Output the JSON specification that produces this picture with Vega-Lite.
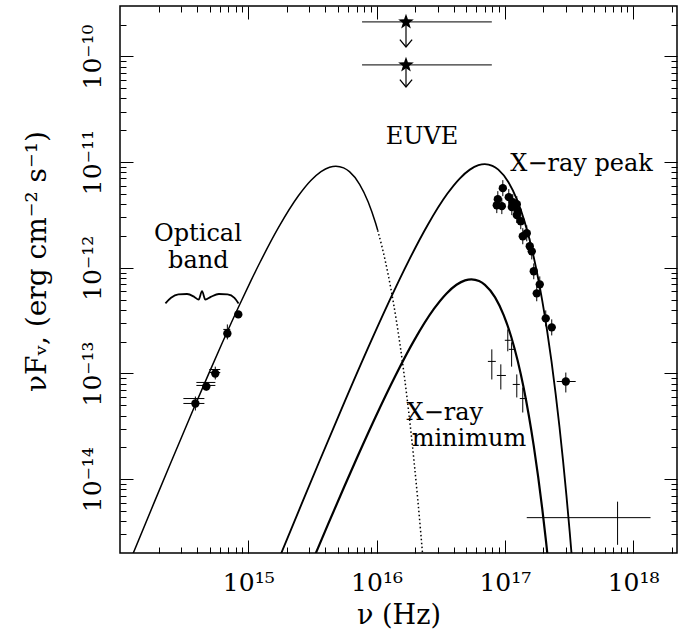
{
  "$schema": "https://vega.github.io/schema/vega-lite/v6.json",
  "width": 557,
  "height": 547,
  "autosize": {"type": "none"},
  "padding": {"left": 120, "top": 6, "right": 10, "bottom": 80},
  "background": "white",
  "config": {
    "view": {"stroke": "black", "strokeWidth": 1.5},
    "font": "DejaVu Serif",
    "axis": {"domain": false, "grid": false, "tickColor": "black", "tickWidth": 1, "labelColor": "black", "titleColor": "black", "labelFont": "DejaVu Serif", "titleFont": "DejaVu Serif", "labelFontSize": 25, "titleFontSize": 27, "titleFontWeight": "normal", "labelFlush": false, "labelOverlap": false}
  },
  "datasets": {
    "solid": [
      {"c": "A", "nu": 1.23e14, "f": 1.822e-15},
      {"c": "A", "nu": 1.845e14, "f": 5.99e-15},
      {"c": "A", "nu": 2.46e14, "f": 1.385e-14},
      {"c": "A", "nu": 3.69e14, "f": 4.436e-14},
      {"c": "A", "nu": 4.92e14, "f": 9.97e-14},
      {"c": "A", "nu": 6.15e14, "f": 1.846e-13},
      {"c": "A", "nu": 8.61e14, "f": 4.538e-13},
      {"c": "A", "nu": 1.0455e15, "f": 7.466e-13},
      {"c": "A", "nu": 1.23e15, "f": 1.115e-12},
      {"c": "A", "nu": 1.722e15, "f": 2.409e-12},
      {"c": "A", "nu": 2.46e15, "f": 4.798e-12},
      {"c": "A", "nu": 3.075e15, "f": 6.693e-12},
      {"c": "A", "nu": 3.69e15, "f": 8.131e-12},
      {"c": "A", "nu": 4.305e15, "f": 8.953e-12},
      {"c": "A", "nu": 4.82e15, "f": 9.158e-12},
      {"c": "A", "nu": 5.535e15, "f": 8.826e-12},
      {"c": "A", "nu": 6.15e15, "f": 8.123e-12},
      {"c": "A", "nu": 7.38e15, "f": 6.17e-12},
      {"c": "A", "nu": 8.61e15, "f": 4.199e-12},
      {"c": "A", "nu": 9.84e15, "f": 2.634e-12},
      {"c": "A", "nu": 1.021e16, "f": 2.26e-12},
      {"c": "B", "nu": 1.78e15, "f": 1.902e-15},
      {"c": "B", "nu": 2.67e15, "f": 6.256e-15},
      {"c": "B", "nu": 3.56e15, "f": 1.445e-14},
      {"c": "B", "nu": 5.34e15, "f": 4.63e-14},
      {"c": "B", "nu": 8.9e15, "f": 1.927e-13},
      {"c": "B", "nu": 1.246e16, "f": 4.736e-13},
      {"c": "B", "nu": 1.78e16, "f": 1.164e-12},
      {"c": "B", "nu": 2.492e16, "f": 2.515e-12},
      {"c": "B", "nu": 3.56e16, "f": 5.009e-12},
      {"c": "B", "nu": 4.45e16, "f": 6.986e-12},
      {"c": "B", "nu": 5.34e16, "f": 8.488e-12},
      {"c": "B", "nu": 6.23e16, "f": 9.345e-12},
      {"c": "B", "nu": 6.978e16, "f": 9.56e-12},
      {"c": "B", "nu": 8.01e16, "f": 9.213e-12},
      {"c": "B", "nu": 8.9e16, "f": 8.48e-12},
      {"c": "B", "nu": 1.068e17, "f": 6.441e-12},
      {"c": "B", "nu": 1.246e17, "f": 4.383e-12},
      {"c": "B", "nu": 1.424e17, "f": 2.749e-12},
      {"c": "B", "nu": 1.602e17, "f": 1.62e-12},
      {"c": "B", "nu": 1.78e17, "f": 9.08e-13},
      {"c": "B", "nu": 1.958e17, "f": 4.891e-13},
      {"c": "B", "nu": 2.136e17, "f": 2.548e-13},
      {"c": "B", "nu": 2.314e17, "f": 1.291e-13},
      {"c": "B", "nu": 2.492e17, "f": 6.389e-14},
      {"c": "B", "nu": 2.67e17, "f": 3.097e-14},
      {"c": "B", "nu": 2.848e17, "f": 1.475e-14},
      {"c": "B", "nu": 3.026e17, "f": 6.915e-15},
      {"c": "B", "nu": 3.204e17, "f": 3.198e-15},
      {"c": "B", "nu": 3.382e17, "f": 1.46e-15},
      {"c": "C", "nu": 3.08e15, "f": 1.55e-15},
      {"c": "C", "nu": 3.5e15, "f": 2.239e-15},
      {"c": "C", "nu": 4.2e15, "f": 3.769e-15},
      {"c": "C", "nu": 5.6e15, "f": 8.474e-15},
      {"c": "C", "nu": 7.0e15, "f": 1.568e-14},
      {"c": "C", "nu": 9.8e15, "f": 3.855e-14},
      {"c": "C", "nu": 1.4e16, "f": 9.475e-14},
      {"c": "C", "nu": 1.96e16, "f": 2.047e-13},
      {"c": "C", "nu": 2.8e16, "f": 4.077e-13},
      {"c": "C", "nu": 3.5e16, "f": 5.687e-13},
      {"c": "C", "nu": 4.2e16, "f": 6.909e-13},
      {"c": "C", "nu": 4.9e16, "f": 7.607e-13},
      {"c": "C", "nu": 5.488e16, "f": 7.782e-13},
      {"c": "C", "nu": 6.3e16, "f": 7.5e-13},
      {"c": "C", "nu": 7.0e16, "f": 6.902e-13},
      {"c": "C", "nu": 8.4e16, "f": 5.243e-13},
      {"c": "C", "nu": 9.8e16, "f": 3.568e-13},
      {"c": "C", "nu": 1.12e17, "f": 2.238e-13},
      {"c": "C", "nu": 1.26e17, "f": 1.318e-13},
      {"c": "C", "nu": 1.4e17, "f": 7.391e-14},
      {"c": "C", "nu": 1.54e17, "f": 3.981e-14},
      {"c": "C", "nu": 1.68e17, "f": 2.074e-14},
      {"c": "C", "nu": 1.82e17, "f": 1.051e-14},
      {"c": "C", "nu": 1.96e17, "f": 5.2e-15},
      {"c": "C", "nu": 2.1e17, "f": 2.521e-15},
      {"c": "C", "nu": 2.24e17, "f": 1.201e-15}
    ],
    "dotted": [
      {"nu": 1.021e16, "f": 2.26e-12},
      {"nu": 1.107e16, "f": 1.552e-12},
      {"nu": 1.23e16, "f": 8.699e-13},
      {"nu": 1.353e16, "f": 4.685e-13},
      {"nu": 1.476e16, "f": 2.441e-13},
      {"nu": 1.599e16, "f": 1.237e-13},
      {"nu": 1.722e16, "f": 6.12e-14},
      {"nu": 1.845e16, "f": 2.967e-14},
      {"nu": 1.968e16, "f": 1.413e-14},
      {"nu": 2.091e16, "f": 6.625e-15},
      {"nu": 2.214e16, "f": 3.063e-15},
      {"nu": 2.337e16, "f": 1.399e-15}
    ],
    "pts": [
      {"nu": 3.87e14, "f": 5.2e-14},
      {"nu": 4.71e14, "f": 7.53e-14},
      {"nu": 5.53e14, "f": 1.0e-13},
      {"nu": 6.87e14, "f": 2.39e-13},
      {"nu": 8.36e14, "f": 3.62e-13},
      {"nu": 9.65e16, "f": 5.67e-12},
      {"nu": 8.82e16, "f": 4.46e-12},
      {"nu": 8.66e16, "f": 3.91e-12},
      {"nu": 9.48e16, "f": 3.83e-12},
      {"nu": 1.074e17, "f": 4.66e-12},
      {"nu": 1.154e17, "f": 4.18e-12},
      {"nu": 1.24e17, "f": 4.0e-12},
      {"nu": 1.134e17, "f": 3.75e-12},
      {"nu": 1.262e17, "f": 3.43e-12},
      {"nu": 1.24e17, "f": 3.15e-12},
      {"nu": 1.332e17, "f": 2.76e-12},
      {"nu": 1.381e17, "f": 1.99e-12},
      {"nu": 1.483e17, "f": 2.12e-12},
      {"nu": 1.565e17, "f": 1.6e-12},
      {"nu": 1.623e17, "f": 1.43e-12},
      {"nu": 1.682e17, "f": 9.27e-13},
      {"nu": 1.873e17, "f": 6.97e-13},
      {"nu": 1.774e17, "f": 5.73e-13},
      {"nu": 2.085e17, "f": 3.32e-13},
      {"nu": 2.322e17, "f": 2.73e-13},
      {"nu": 2.99e17, "f": 8.39e-14}
    ],
    "xerr": [
      {"y": 5.79e-14, "lo": 3.12e14, "hi": 4.55e14},
      {"y": 5.2e-14, "lo": 3.12e14, "hi": 4.55e14},
      {"y": 8.22e-14, "lo": 3.94e14, "hi": 5.54e14},
      {"y": 7.7e-14, "lo": 3.94e14, "hi": 5.54e14},
      {"y": 1.09e-13, "lo": 4.97e14, "hi": 6.05e14},
      {"y": 1.02e-13, "lo": 4.97e14, "hi": 6.05e14},
      {"y": 2.61e-13, "lo": 6.39e14, "hi": 7.24e14},
      {"y": 1.3e-13, "lo": 7.38e16, "hi": 8.51e16},
      {"y": 9.57e-14, "lo": 8.67e16, "hi": 1.02e17},
      {"y": 2.06e-13, "lo": 1.0e17, "hi": 1.114e17},
      {"y": 1.69e-13, "lo": 1.074e17, "hi": 1.196e17},
      {"y": 7.87e-14, "lo": 1.153e17, "hi": 1.309e17},
      {"y": 5.79e-14, "lo": 1.309e17, "hi": 1.483e17},
      {"y": 4.32e-15, "lo": 1.483e17, "hi": 1.368e18},
      {"y": 8.39e-14, "lo": 2.54e17, "hi": 3.57e17}
    ],
    "yerr": [
      {"x": 3.87e14, "lo": 4.46e-14, "hi": 6.05e-14},
      {"x": 4.71e14, "lo": 6.9e-14, "hi": 8.22e-14},
      {"x": 5.53e14, "lo": 8.77e-14, "hi": 1.16e-13},
      {"x": 6.87e14, "lo": 2.1e-13, "hi": 2.91e-13},
      {"x": 7.92e16, "lo": 8.77e-14, "hi": 1.69e-13},
      {"x": 9.31e16, "lo": 7.05e-14, "hi": 1.22e-13},
      {"x": 1.055e17, "lo": 1.62e-13, "hi": 2.61e-13},
      {"x": 1.13e17, "lo": 1.16e-13, "hi": 1.97e-13},
      {"x": 1.24e17, "lo": 5.93e-14, "hi": 9.79e-14},
      {"x": 1.38e17, "lo": 4.27e-14, "hi": 7.36e-14},
      {"x": 7.57e17, "lo": 2.39e-15, "hi": 6.12e-15},
      {"x": 2.99e17, "lo": 6.61e-14, "hi": 1.02e-13},
      {"x": 9.65e16, "lo": 4.76e-12, "hi": 6.75e-12},
      {"x": 8.82e16, "lo": 3.75e-12, "hi": 5.31e-12},
      {"x": 8.66e16, "lo": 3.29e-12, "hi": 4.65e-12},
      {"x": 9.48e16, "lo": 3.22e-12, "hi": 4.56e-12},
      {"x": 1.074e17, "lo": 3.92e-12, "hi": 5.55e-12},
      {"x": 1.154e17, "lo": 3.51e-12, "hi": 4.97e-12},
      {"x": 1.24e17, "lo": 3.36e-12, "hi": 4.76e-12},
      {"x": 1.134e17, "lo": 3.15e-12, "hi": 4.46e-12},
      {"x": 1.262e17, "lo": 2.88e-12, "hi": 4.08e-12},
      {"x": 1.24e17, "lo": 2.65e-12, "hi": 3.75e-12},
      {"x": 1.332e17, "lo": 2.32e-12, "hi": 3.28e-12},
      {"x": 1.381e17, "lo": 1.67e-12, "hi": 2.37e-12},
      {"x": 1.483e17, "lo": 1.78e-12, "hi": 2.52e-12},
      {"x": 1.565e17, "lo": 1.34e-12, "hi": 1.9e-12},
      {"x": 1.623e17, "lo": 1.2e-12, "hi": 1.7e-12},
      {"x": 1.682e17, "lo": 7.79e-13, "hi": 1.1e-12},
      {"x": 1.873e17, "lo": 5.86e-13, "hi": 8.29e-13},
      {"x": 1.774e17, "lo": 4.82e-13, "hi": 6.82e-13},
      {"x": 2.085e17, "lo": 2.79e-13, "hi": 3.95e-13},
      {"x": 2.322e17, "lo": 2.29e-13, "hi": 3.25e-13}
    ],
    "euve": [
      {"nu": 1.697e16, "f": 2.12e-10, "lo": 7.71e15, "hi": 7.92e16, "tip": 1.23e-10},
      {"nu": 1.697e16, "f": 8.3e-11, "lo": 7.71e15, "hi": 7.92e16, "tip": 5.14e-11}
    ],
    "brace": [
      {"nu": 2.26e14, "f": 4.6e-13},
      {"nu": 2.5e14, "f": 5.2e-13},
      {"nu": 2.85e14, "f": 5.6e-13},
      {"nu": 3.33e14, "f": 5.65e-13},
      {"nu": 3.8e14, "f": 5.3e-13},
      {"nu": 4.1e14, "f": 5.0e-13},
      {"nu": 4.36e14, "f": 6.0e-13},
      {"nu": 4.63e14, "f": 5.0e-13},
      {"nu": 5.1e14, "f": 5.3e-13},
      {"nu": 5.9e14, "f": 5.65e-13},
      {"nu": 6.9e14, "f": 5.6e-13},
      {"nu": 7.8e14, "f": 5.2e-13},
      {"nu": 8.4e14, "f": 4.6e-13}
    ],
    "texts": [
      {"nu": 2.26e16, "f": 1.48e-11, "t": "EUVE"},
      {"nu": 3.97e17, "f": 8.22e-12, "t": "X−ray peak"},
      {"nu": 4.05e14, "f": 1.8e-12, "t": "Optical"},
      {"nu": 4.08e14, "f": 1.0e-12, "t": "band"},
      {"nu": 3.41e16, "f": 3.6e-14, "t": "X−ray"},
      {"nu": 5.25e16, "f": 2.05e-14, "t": "minimum"}
    ]
  },
  "resolve": {"axis": {"x": "independent", "y": "independent"}},
  "layer": [
    {
      "data": {"name": "solid"},
      "mark": {"type": "line", "clip": true, "color": "black", "interpolate": "monotone"},
      "encoding": {
        "x": {"field": "nu", "type": "quantitative", "scale": {"type": "log", "domain": [1e14, 2.2e18], "nice": false},
          "axis": {"orient": "bottom", "values": [1e15, 1e16, 1e17, 1e18], "tickSize": -13, "labelPadding": 30, "labelExpr": "round(log(datum.value)/LN10) == 15 ? '10¹⁵' : round(log(datum.value)/LN10) == 16 ? '10¹⁶' : round(log(datum.value)/LN10) == 17 ? '10¹⁷' : '10¹⁸'", "title": "ν (Hz)", "titleBaseline": "alphabetic", "titleY": 70}},
        "y": {"field": "f", "type": "quantitative", "scale": {"type": "log", "domain": [2e-15, 3e-10], "nice": false},
          "axis": {"orient": "left", "values": [1e-14, 1e-13, 1e-12, 1e-11, 1e-10], "tickSize": -13, "labelPadding": 28, "labelAngle": -90, "labelAlign": "center", "labelBaseline": "bottom", "labelExpr": "'10' + (round(log(datum.value)/LN10) == -10 ? '⁻¹⁰' : round(log(datum.value)/LN10) == -11 ? '⁻¹¹' : round(log(datum.value)/LN10) == -12 ? '⁻¹²' : round(log(datum.value)/LN10) == -13 ? '⁻¹³' : '⁻¹⁴')", "title": "νFᵥ,  (erg  cm⁻²  s⁻¹)", "titleFontSize": 28, "titleBaseline": "alphabetic", "titleX": -75, "titleY": 255}},
        "detail": {"field": "c"},
        "strokeWidth": {"field": "c", "type": "nominal", "scale": {"domain": ["A", "B", "C"], "range": [1.5, 2.2, 2.2]}, "legend": null}
      }
    },
    {
      "data": {"name": "dotted"},
      "mark": {"type": "line", "clip": true, "color": "black", "strokeWidth": 1.5, "strokeDash": [1.5, 2.5], "interpolate": "monotone"},
      "encoding": {
        "x": {"field": "nu", "type": "quantitative", "scale": {"type": "log", "domain": [1e14, 2.2e18], "nice": false},
          "axis": {"orient": "bottom", "values": [2e14, 3e14, 4e14, 5e14, 6e14, 7e14, 8e14, 9e14, 2e15, 3e15, 4e15, 5e15, 6e15, 7e15, 8e15, 9e15, 2e16, 3e16, 4e16, 5e16, 6e16, 7e16, 8e16, 9e16, 2e17, 3e17, 4e17, 5e17, 6e17, 7e17, 8e17, 9e17, 2e18], "tickSize": -6, "labels": false, "title": null}},
        "y": {"field": "f", "type": "quantitative", "scale": {"type": "log", "domain": [2e-15, 3e-10], "nice": false},
          "axis": {"orient": "left", "values": [3e-15, 4e-15, 5e-15, 6e-15, 7e-15, 8e-15, 9e-15, 2e-14, 3e-14, 4e-14, 5e-14, 6e-14, 7e-14, 8e-14, 9e-14, 2e-13, 3e-13, 4e-13, 5e-13, 6e-13, 7e-13, 8e-13, 9e-13, 2e-12, 3e-12, 4e-12, 5e-12, 6e-12, 7e-12, 8e-12, 9e-12, 2e-11, 3e-11, 4e-11, 5e-11, 6e-11, 7e-11, 8e-11, 9e-11, 2e-10], "tickSize": -6, "labels": false, "title": null}}
      }
    },
    {
      "data": {"name": "xerr"},
      "mark": {"type": "rule", "color": "black", "strokeWidth": 1},
      "encoding": {
        "x": {"field": "lo", "type": "quantitative", "scale": {"type": "log", "domain": [1e14, 2.2e18], "nice": false},
          "axis": {"orient": "top", "values": [1e15, 1e16, 1e17, 1e18], "tickSize": -13, "labels": false, "title": null}},
        "x2": {"field": "hi"},
        "y": {"field": "y", "type": "quantitative", "scale": {"type": "log", "domain": [2e-15, 3e-10], "nice": false},
          "axis": {"orient": "right", "values": [1e-14, 1e-13, 1e-12, 1e-11, 1e-10], "tickSize": -13, "labels": false, "title": null}}
      }
    },
    {
      "data": {"name": "yerr"},
      "mark": {"type": "rule", "color": "black", "strokeWidth": 1},
      "encoding": {
        "x": {"field": "x", "type": "quantitative", "scale": {"type": "log", "domain": [1e14, 2.2e18], "nice": false},
          "axis": {"orient": "top", "values": [2e14, 3e14, 4e14, 5e14, 6e14, 7e14, 8e14, 9e14, 2e15, 3e15, 4e15, 5e15, 6e15, 7e15, 8e15, 9e15, 2e16, 3e16, 4e16, 5e16, 6e16, 7e16, 8e16, 9e16, 2e17, 3e17, 4e17, 5e17, 6e17, 7e17, 8e17, 9e17, 2e18], "tickSize": -6, "labels": false, "title": null}},
        "y": {"field": "lo", "type": "quantitative", "scale": {"type": "log", "domain": [2e-15, 3e-10], "nice": false},
          "axis": {"orient": "right", "values": [3e-15, 4e-15, 5e-15, 6e-15, 7e-15, 8e-15, 9e-15, 2e-14, 3e-14, 4e-14, 5e-14, 6e-14, 7e-14, 8e-14, 9e-14, 2e-13, 3e-13, 4e-13, 5e-13, 6e-13, 7e-13, 8e-13, 9e-13, 2e-12, 3e-12, 4e-12, 5e-12, 6e-12, 7e-12, 8e-12, 9e-12, 2e-11, 3e-11, 4e-11, 5e-11, 6e-11, 7e-11, 8e-11, 9e-11, 2e-10], "tickSize": -6, "labels": false, "title": null}},
        "y2": {"field": "hi"}
      }
    },
    {
      "data": {"name": "pts"},
      "mark": {"type": "point", "shape": "circle", "filled": true, "color": "black", "size": 70, "opacity": 1},
      "encoding": {
        "x": {"field": "nu", "type": "quantitative", "scale": {"type": "log", "domain": [1e14, 2.2e18], "nice": false}, "axis": null},
        "y": {"field": "f", "type": "quantitative", "scale": {"type": "log", "domain": [2e-15, 3e-10], "nice": false}, "axis": null}
      }
    },
    {
      "data": {"name": "euve"},
      "mark": {"type": "rule", "color": "#333333", "strokeWidth": 1.2},
      "encoding": {
        "x": {"field": "lo", "type": "quantitative", "scale": {"type": "log", "domain": [1e14, 2.2e18], "nice": false}, "axis": null},
        "x2": {"field": "hi"},
        "y": {"field": "f", "type": "quantitative", "scale": {"type": "log", "domain": [2e-15, 3e-10], "nice": false}, "axis": null}
      }
    },
    {
      "data": {"name": "euve"},
      "mark": {"type": "rule", "color": "black", "strokeWidth": 1.2},
      "encoding": {
        "x": {"field": "nu", "type": "quantitative", "scale": {"type": "log", "domain": [1e14, 2.2e18], "nice": false}, "axis": null},
        "y": {"field": "f", "type": "quantitative", "scale": {"type": "log", "domain": [2e-15, 3e-10], "nice": false}, "axis": null},
        "y2": {"field": "tip"}
      }
    },
    {
      "data": {"name": "euve"},
      "mark": {"type": "point", "shape": "M0,-1L0.235,-0.324L0.951,-0.309L0.38,0.124L0.588,0.809L0,0.4L-0.588,0.809L-0.38,0.124L-0.951,-0.309L-0.235,-0.324Z", "filled": true, "color": "black", "size": 270, "opacity": 1},
      "encoding": {
        "x": {"field": "nu", "type": "quantitative", "scale": {"type": "log", "domain": [1e14, 2.2e18], "nice": false}, "axis": null},
        "y": {"field": "f", "type": "quantitative", "scale": {"type": "log", "domain": [2e-15, 3e-10], "nice": false}, "axis": null}
      }
    },
    {
      "data": {"name": "euve"},
      "mark": {"type": "point", "shape": "M-1,-1.2L0,0L1,-1.2", "filled": false, "color": "black", "strokeWidth": 1.3, "size": 150, "opacity": 1},
      "encoding": {
        "x": {"field": "nu", "type": "quantitative", "scale": {"type": "log", "domain": [1e14, 2.2e18], "nice": false}, "axis": null},
        "y": {"field": "tip", "type": "quantitative", "scale": {"type": "log", "domain": [2e-15, 3e-10], "nice": false}, "axis": null}
      }
    },
    {
      "data": {"name": "brace"},
      "mark": {"type": "line", "color": "black", "strokeWidth": 1.8, "interpolate": "monotone"},
      "encoding": {
        "x": {"field": "nu", "type": "quantitative", "scale": {"type": "log", "domain": [1e14, 2.2e18], "nice": false}, "axis": null},
        "y": {"field": "f", "type": "quantitative", "scale": {"type": "log", "domain": [2e-15, 3e-10], "nice": false}, "axis": null}
      }
    },
    {
      "data": {"name": "texts"},
      "mark": {"type": "text", "font": "DejaVu Serif", "fontSize": 24, "align": "center", "baseline": "alphabetic", "color": "black"},
      "encoding": {
        "x": {"field": "nu", "type": "quantitative", "scale": {"type": "log", "domain": [1e14, 2.2e18], "nice": false}, "axis": null},
        "y": {"field": "f", "type": "quantitative", "scale": {"type": "log", "domain": [2e-15, 3e-10], "nice": false}, "axis": null},
        "text": {"field": "t"}
      }
    }
  ]
}
